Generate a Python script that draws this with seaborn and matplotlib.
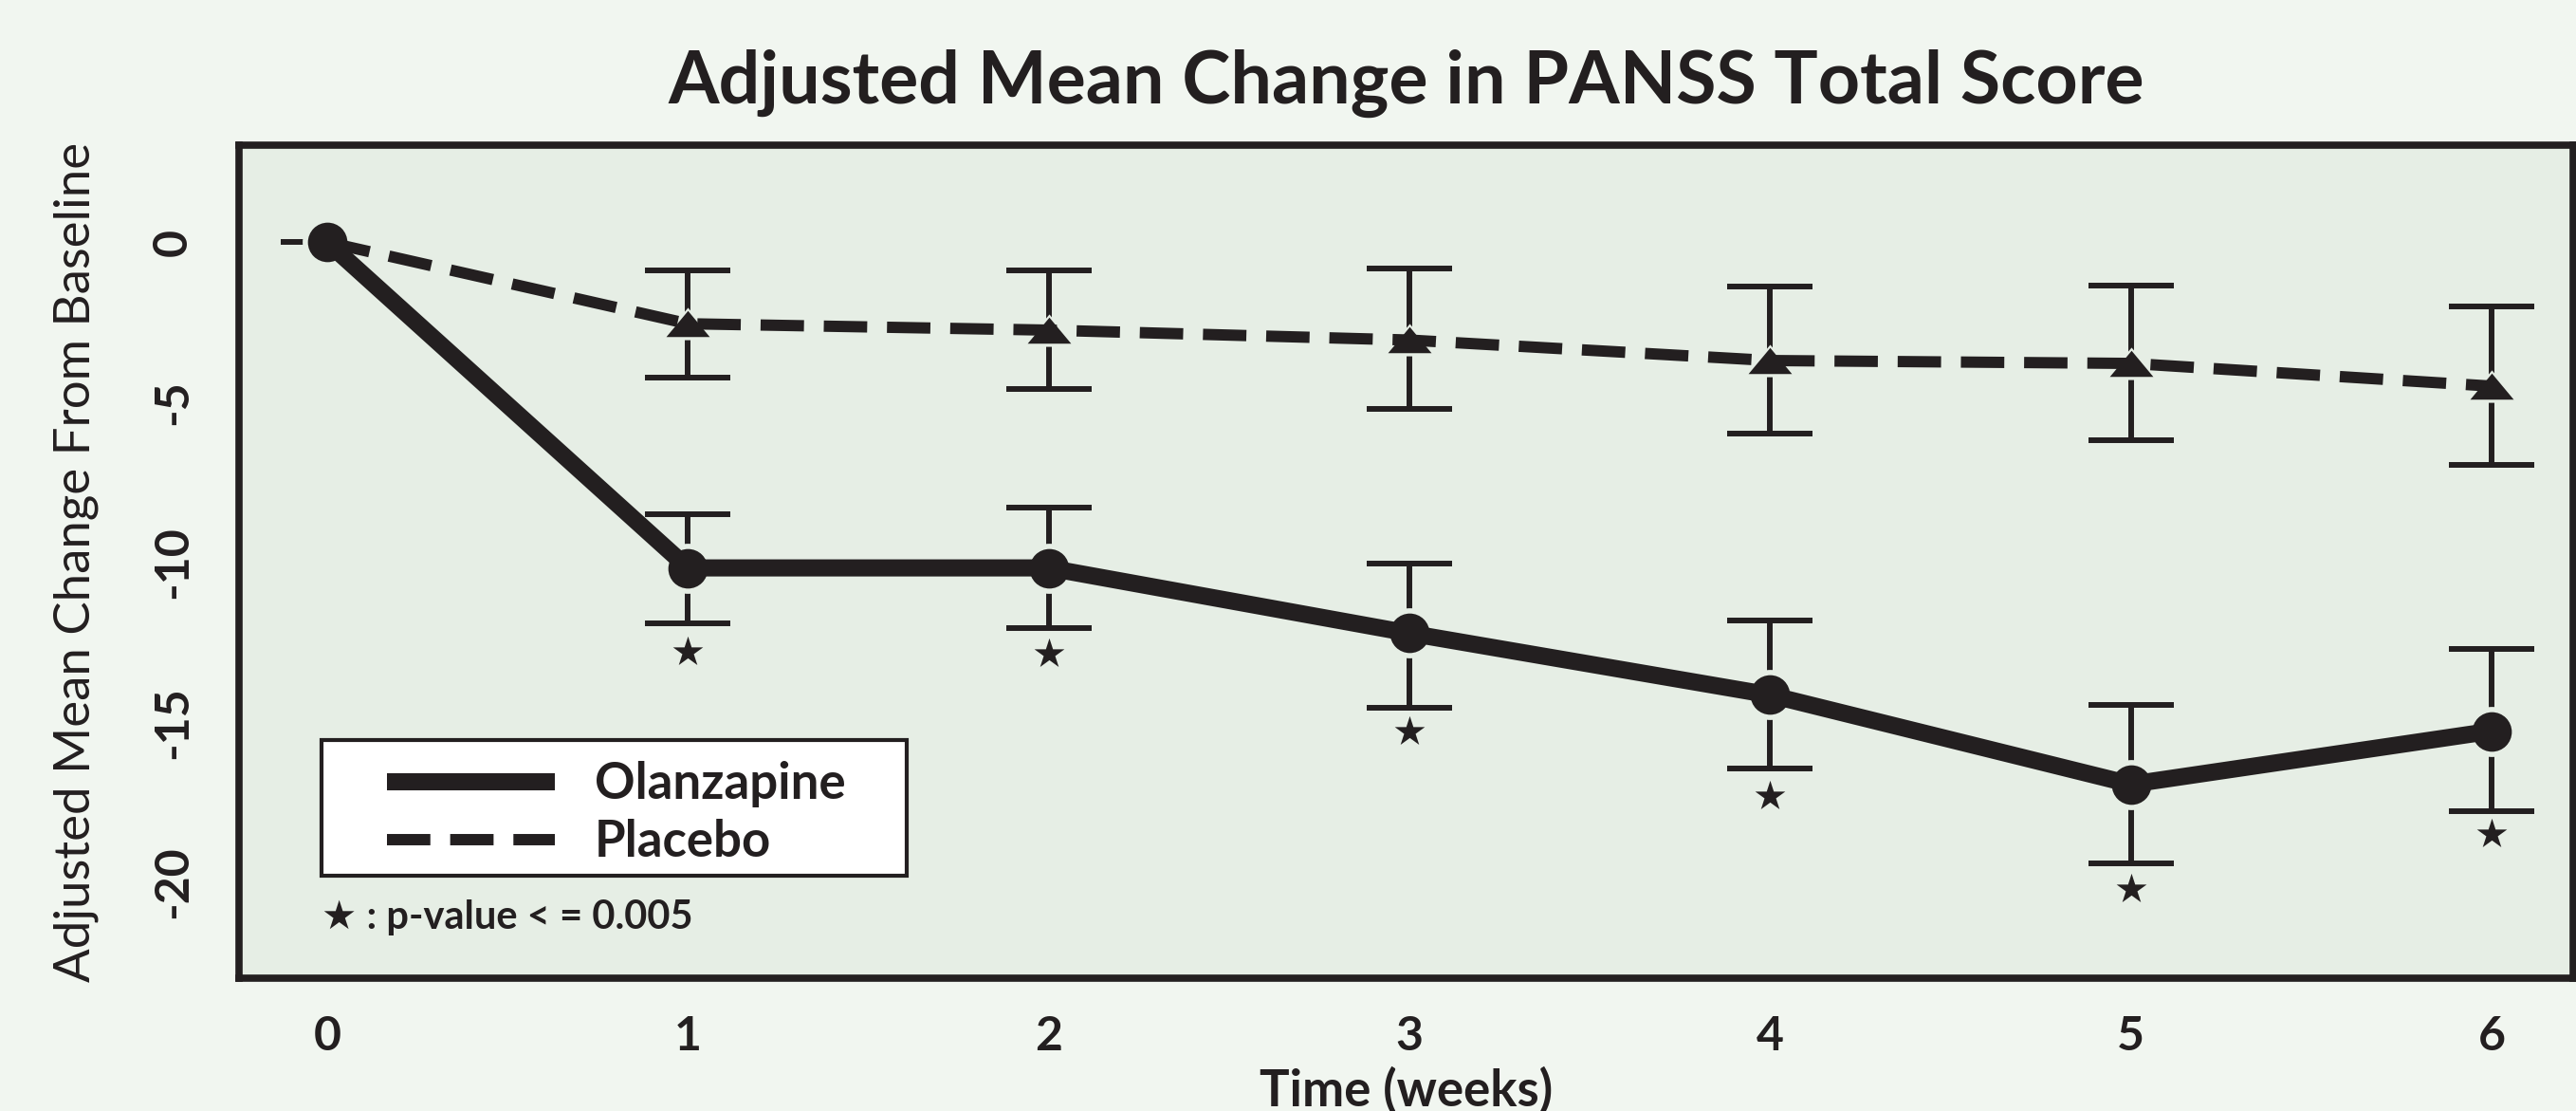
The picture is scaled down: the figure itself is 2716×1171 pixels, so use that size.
import numpy as np
import pandas as pd
import matplotlib
matplotlib.use("Agg")
import matplotlib.pyplot as plt
from matplotlib.path import Path
from matplotlib.lines import Line2D
from matplotlib.patches import Rectangle
import seaborn as sns

# ---------------- data ----------------
weeks = [0, 1, 2, 3, 4, 5, 6]
olanzapine_mean = [0.0, -10.18, -10.18, -12.22, -14.15, -16.94, -15.28]
olanzapine_upper = [0.0, -8.50, -8.29, -10.03, -11.81, -14.45, -12.70]
olanzapine_lower = [0.0, -11.90, -12.05, -14.54, -16.44, -19.41, -17.77]
placebo_mean = [0.0, -2.55, -2.75, -3.06, -3.70, -3.79, -4.50]
placebo_upper = [0.0, -0.88, -0.88, -0.83, -1.39, -1.36, -2.00]
placebo_lower = [0.0, -4.23, -4.59, -5.21, -5.98, -6.20, -6.97]
star_weeks = [1, 2, 3, 4, 5, 6]
star_y = [-12.8, -12.85, -15.3, -17.3, -20.2, -18.5]
xtick_vals = [0, 1, 2, 3, 4, 5, 6]
ytick_vals = [0, -5, -10, -15, -20]
series_names = ["Olanzapine", "Placebo"]
title = "Adjusted Mean Change in PANSS Total Score"
xlabel = "Time (weeks)"
ylabel = "Adjusted Mean Change From Baseline"
note = "\u2605 : p-value < = 0.005"

# ---------------- style ----------------
DARK = "#231F20"
FIG_BG = "#F1F6F0"
AX_BG = "#E6EEE5"

sns.set_style("white")
FAM = ["Lato", "DejaVu Sans"]
plt.rcParams["font.family"] = FAM

fig = plt.figure(figsize=(27.16, 11.71), dpi=100, facecolor=FIG_BG)
ax = fig.add_axes([252 / 2716, 1 - 1031 / 1171, (2713 - 252) / 2716, (1031 - 153) / 1171])
ax.set_facecolor(AX_BG)

df_o = pd.DataFrame({"week": weeks, "change": olanzapine_mean})
df_p = pd.DataFrame({"week": weeks, "change": placebo_mean})

# error bars (bottom layer)
o_m = np.array(olanzapine_mean[1:]); p_m = np.array(placebo_mean[1:])
ax.errorbar(weeks[1:], o_m,
            yerr=[o_m - np.array(olanzapine_lower[1:]), np.array(olanzapine_upper[1:]) - o_m],
            fmt="none", ecolor=DARK, elinewidth=4.3, capsize=32.4, capthick=4.3, zorder=1)
ax.errorbar(weeks[1:], p_m,
            yerr=[p_m - np.array(placebo_lower[1:]), np.array(placebo_upper[1:]) - p_m],
            fmt="none", ecolor=DARK, elinewidth=4.3, capsize=32.4, capthick=4.3, zorder=1)
ax.hlines(olanzapine_mean[0], weeks[0] - 0.13, weeks[0], color=DARK, lw=4.3, zorder=1)

tri = Path([(-1, -0.6), (1, -0.6), (0, 0.6), (-1, -0.6)],
           [Path.MOVETO, Path.LINETO, Path.LINETO, Path.CLOSEPOLY])

# halos that break the error bars around markers
sns.scatterplot(data=df_o, x="week", y="change", marker="o", s=38 ** 2,
                color=AX_BG, linewidth=0, zorder=2, ax=ax, legend=False)
sns.scatterplot(data=df_p.iloc[1:], x="week", y="change", marker=tri, s=41 ** 2,
                color=AX_BG, linewidth=0, zorder=2, ax=ax, legend=False)

# lines
sns.lineplot(data=df_o, x="week", y="change", color=DARK, lw=13,
             linestyle="-", zorder=3, ax=ax, legend=False)
sns.lineplot(data=df_p, x="week", y="change", color=DARK, lw=8.6,
             linestyle=(0, (3.83, 1.75)), zorder=3, ax=ax, legend=False)

# markers
sns.scatterplot(data=df_p.iloc[1:], x="week", y="change", marker=tri, s=33 ** 2,
                color=DARK, linewidth=0, zorder=4, ax=ax, legend=False)
sns.scatterplot(data=df_o, x="week", y="change", marker="o", s=30 ** 2,
                color=DARK, linewidth=0, zorder=5, ax=ax, legend=False)

# significance stars
ax.scatter(star_weeks, star_y, marker="*", s=24 ** 2, color=DARK, linewidth=0, zorder=4)

# axes
ax.set_xlim(-0.2445, 6.226)
ax.set_ylim(-23.0, 3.03)
ax.set_xticks(xtick_vals)
ax.set_xticklabels([str(v) for v in xtick_vals], fontsize=36, fontweight="bold", color=DARK)
ax.set_yticks(ytick_vals)
ax.set_yticklabels([str(v) for v in ytick_vals], fontsize=36, fontweight="bold",
                   color=DARK, rotation=90, va="center")
ax.tick_params(axis="both", length=24, width=4.3, color=DARK, direction="out")
ax.tick_params(axis="x", pad=4)
ax.tick_params(axis="y", pad=10)
for s in ax.spines.values():
    s.set_visible(True)
    s.set_linewidth(5.5)
    s.set_color(DARK)

ax.set_xlabel(xlabel, fontsize=38, fontweight="bold", color=DARK)
ax.xaxis.set_label_coords(0.5, -0.106)
ax.xaxis.label.set_va("top")
ax.set_ylabel(ylabel, fontsize=38, color=DARK)
ax.yaxis.set_label_coords(-0.060, 0.5)
ax.set_title(title, fontsize=55.5, fontweight="bold", color=DARK, y=1.041, va="baseline")

# legend
ax.add_patch(Rectangle((0.0354, 0.123), 0.2507, 0.1629, transform=ax.transAxes,
                       facecolor="white", edgecolor=DARK, lw=3, zorder=6))
handles = [Line2D([], [], color=DARK, lw=13, solid_capstyle="butt"),
           Line2D([], [], color=DARK, lw=8.6, linestyle=(0, (3.83, 1.75)))]
leg = ax.legend(handles, series_names, loc="center left", bbox_to_anchor=(0.0634, 0.198),
                frameon=False, borderpad=0, borderaxespad=0, handlelength=3.35,
                handletextpad=0.8, labelspacing=0.23,
                prop={"family": FAM, "size": 38, "weight": "bold"})
leg.set_zorder(7)
for t in leg.get_texts():
    t.set_color(DARK)

ax.text(0.0354, 0.073, note, transform=ax.transAxes, fontsize=30, fontweight="bold",
        color=DARK, va="center", ha="left", family=FAM, zorder=7)

fig.savefig("out.png", dpi=100, facecolor=FIG_BG)
